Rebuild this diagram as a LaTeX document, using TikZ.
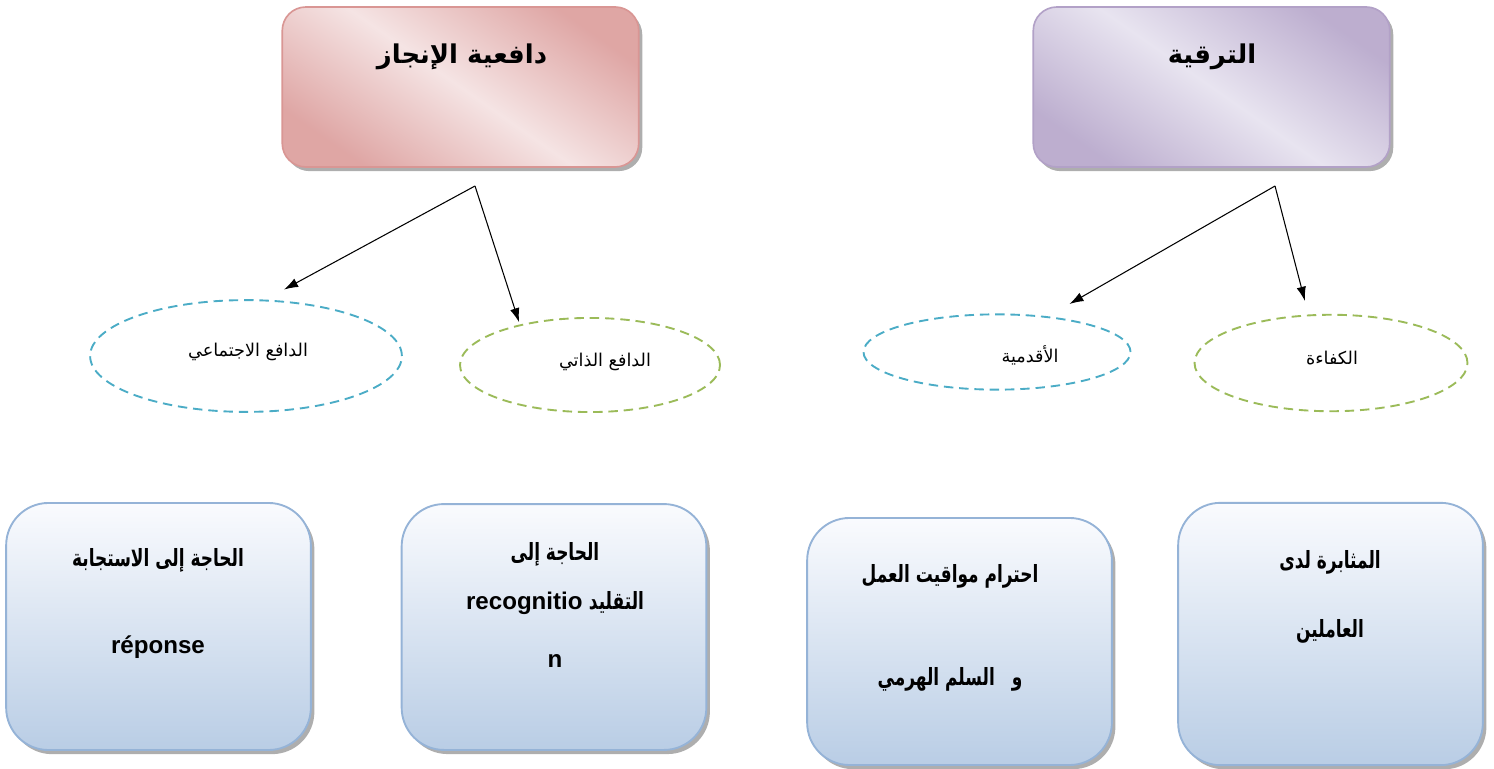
\documentclass[tikz,border=0pt]{standalone}
\usepackage{fontspec}
\usepackage{tikz}
\usetikzlibrary{positioning,arrows.meta,shapes.geometric,shadows}
\TeXXeTstate=1
\newfontfamily\arabicfont[Script=Arabic]{DejaVu Sans}
\newfontfamily\latinfont{Liberation Sans}
\newcommand{\tallar}[1]{\scalebox{0.93}[1.3]{\beginR #1\endR}}
\definecolor{pinkdark}{RGB}{217,150,148}
\definecolor{pinklight}{RGB}{245,228,228}
\definecolor{purpledark}{RGB}{178,161,199}
\definecolor{purplelight}{RGB}{232,228,240}
\definecolor{boxtop}{RGB}{250,251,254}
\definecolor{boxbottom}{RGB}{185,205,229}
\definecolor{boxline}{RGB}{149,179,215}
\definecolor{motiveblue}{RGB}{75,172,198}
\definecolor{motivegreen}{RGB}{155,187,89}

\begin{document}
\begin{tikzpicture}[x=0.85pt,y=-0.85pt,
  headbox/.style={draw=#1dark, line width=1.4pt, rounded corners=20pt,
    minimum width=303pt, minimum height=136pt, inner sep=0pt,
    top color=#1dark!80!#1light, bottom color=#1dark!80!#1light, middle color=#1light, shading angle=-35,
    drop shadow={shadow xshift=3pt, shadow yshift=-3.5pt, fill=black!45, opacity=.7}},
  catbox/.style={draw=boxline, line width=1.6pt, rounded corners=36pt,
    minimum width=259pt, inner sep=0pt,
    top color=boxtop, bottom color=boxbottom,
    drop shadow={shadow xshift=3pt, shadow yshift=-3.5pt, fill=black!45, opacity=.7}},
  motive/.style={ellipse, draw=#1, dash pattern=on 8pt off 5pt, line width=1.6pt, inner sep=0pt},
  link/.style={-{Latex[length=12pt,width=8pt]}, line width=0.9pt},
  headtext/.style={font=\arabicfont\bfseries\fontsize{22}{26}\selectfont},
  motivetext/.style={font=\arabicfont\fontsize{15}{18}\selectfont},
  cattext/.style={align=center, font=\arabicfont\bfseries\fontsize{15.5}{18}\selectfont}]
  \useasboundingbox (0,0) rectangle (1494,769);

  % Top boxes
  \node[headbox=pink] (ach) at (460.5,87) {};
  \node[headbox=purple] (pro) at (1211.5,87) {};
  \node[headtext] (ach-txt) at (462,57) {\beginR دافعية الإنجاز\endR};
  \node[headtext] (pro-txt) at (1212,57) {\beginR الترقية\endR};

  % Motives
  \node[motive=motiveblue, minimum width=265pt, minimum height=95pt] (soc) at (246,356) {};
  \node[motive=motivegreen, minimum width=221pt, minimum height=80pt] (self) at (590,365) {};
  \node[motive=motiveblue, minimum width=227pt, minimum height=64pt] (sen) at (997,352) {};
  \node[motive=motivegreen, minimum width=232pt, minimum height=82pt] (comp) at (1331,363) {};
  \node[motivetext] (soc-txt) at (248,352) {\beginR الدافع الاجتماعي\endR};
  \node[motivetext] (self-txt) at (605,362) {\beginR الدافع الذاتي\endR};
  \node[motivetext] (sen-txt) at (1030,355) {\beginR الأقدمية\endR};
  \node[motivetext] (comp-txt) at (1332,358) {\beginR الكفاءة\endR};

  % Arrows
  \coordinate (ach-fork) at (475,186);
  \coordinate (pro-fork) at (1275,186);
  \draw[link, shorten >=18pt] (ach-fork) -- (soc.71);
  \draw[link, shorten >=2pt] (ach-fork) -- (self.150);
  \draw[link, shorten >=21pt] (pro-fork) -- (sen.35);
  \draw[link, shorten >=12pt] (pro-fork) -- (comp.115);

  % Bottom boxes
  \node[catbox, minimum height=210pt] (resp) at (158.5,626.5) {};
  \node[catbox, minimum height=209pt] (imit) at (554,627) {};
  \node[catbox, minimum height=210pt] (time) at (959.5,641.5) {};
  \node[catbox, minimum height=223pt] (pers) at (1330.5,634) {};
  \node[cattext] (resp-txt) at (158,603)
    {\tallar{الحاجة إلى الاستجابة}\\[53pt]{\latinfont\fontsize{20.5}{18}\selectfont réponse}};
  \node[cattext] (imit-txt) at (555,605)
    {\tallar{الحاجة إلى}\\[20pt]{\latinfont\fontsize{20.5}{18}\selectfont recognitio}\ \tallar{التقليد}\\[31pt]{\latinfont\fontsize{20.5}{18}\selectfont n}};
  \node[cattext] (time-txt) at (950,628)
    {\tallar{احترام مواقيت العمل}\\[66pt]\tallar{و\quad السلم الهرمي}};
  \node[cattext] (pers-txt) at (1330,597)
    {\tallar{المثابرة لدى}\\[38pt]\tallar{العاملين}};
\end{tikzpicture}
\end{document}
